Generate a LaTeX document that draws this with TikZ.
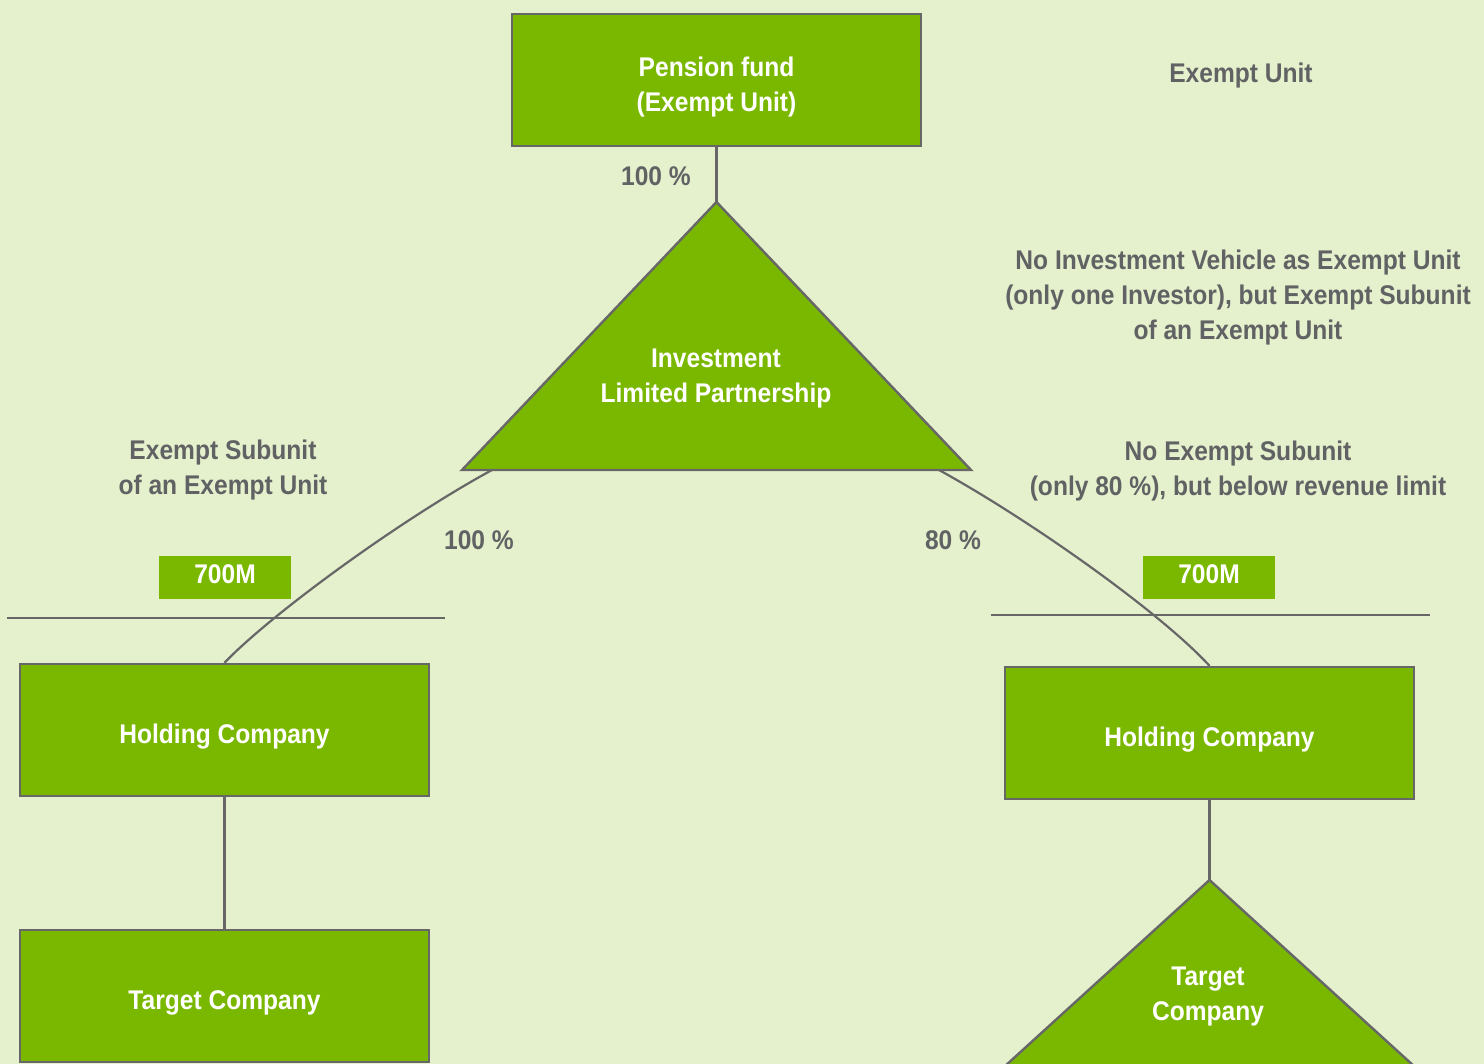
\documentclass[tikz,border=0pt]{standalone}
\usepackage{fontspec}
\setmainfont{Liberation Sans}[FakeStretch=0.91]
\definecolor{bgc}{HTML}{E5F0CC}
\definecolor{leaf}{HTML}{7AB800}
\definecolor{edge}{HTML}{676767}
\definecolor{ink}{HTML}{616264}
\begin{document}
\begin{tikzpicture}[x=1pt,y=-1pt,
  txt/.style={font=\fontsize{27}{35}\selectfont\bfseries, align=center, inner sep=0pt},
  inbox/.style={txt, text=white, yshift=-7},
  box/.style={draw=edge, line width=2.4pt, fill=leaf,
    minimum width=409, minimum height=132, inner sep=0pt},
  tag/.style={fill=leaf, minimum width=132, minimum height=43, inner sep=0pt},
  intag/.style={txt, text=white, yshift=3},
  note/.style={txt, text=ink},
  tri/.style={draw=edge, line width=2.4pt, fill=leaf, line join=miter},
  conn/.style={draw=edge, line width=2.2pt},
  rule/.style={draw=edge, line width=2.2pt}]
\useasboundingbox (0,0) rectangle (1484,1064);
\fill[bgc] (0,0) rectangle (1484,1064);

% top: pension fund
\node[box, label={[inbox]center:Pension fund\\(Exempt Unit)}] (pension) at (716.5,80) {};

% investment partnership (triangle)
\coordinate (lpApex) at (716.5,202);
\coordinate (lpL) at (492,470);
\coordinate (lpR) at (939,470);
\filldraw[tri] (lpApex) -- (971,470) -- (462,470) -- cycle;
\node[txt, text=white] (lp) at (716,379) {Investment\\Limited Partnership};

% holding companies and targets
\node[box, label={[inbox]center:Holding Company}] (holdL) at (224.5,730) {};
\node[box, label={[inbox]center:Target Company}] (targetL) at (224.5,996) {};
\node[box, label={[inbox]center:Holding Company}] (holdR) at (1209.5,733) {};

\coordinate (tgApex) at (1209.5,880);
\filldraw[tri] (tgApex) -- (1415,1067) -- (1004,1067) -- cycle;
\node[txt, text=white] (targetR) at (1208,997) {Target\\Company};

% revenue thresholds
\draw[rule] (7,618) coordinate (ruleLa) -- (445,618) coordinate (ruleLb);
\draw[rule] (991,615) coordinate (ruleRa) -- (1430,615) coordinate (ruleRb);
\node[tag, label={[intag]center:700M}] (capL) at (225,577.5) {};
\node[tag, label={[intag]center:700M}] (capR) at (1209,577.5) {};

% ownership links
\draw[conn] (pension.south) -- (lpApex);
\draw[conn] (lpL) .. controls (400,520) and (270,615) .. (holdL.north);
\draw[conn] (lpR) .. controls (1030,520) and (1160,612) .. (holdR.north);
\draw[conn] (holdL.south) -- (targetL.north);
\draw[conn] (holdR.south) -- (tgApex);

% annotations
\node[note] (pctTop) at (656,176) {100 \%};
\node[note] (pctL) at (479,540) {100 \%};
\node[note] (pctR) at (953,540) {80 \%};
\node[note] (exempt) at (1241,76) {Exempt Unit};
\node[note] (vehicle) at (1238,297.5) {No Investment Vehicle as Exempt Unit\\(only one Investor), but Exempt Subunit\\of an Exempt Unit};
\node[note] (subL) at (223,470.5) {Exempt Subunit\\of an Exempt Unit};
\node[note] (subR) at (1238,471) {No Exempt Subunit\\(only 80 \%), but below revenue limit};
\end{tikzpicture}
\end{document}
